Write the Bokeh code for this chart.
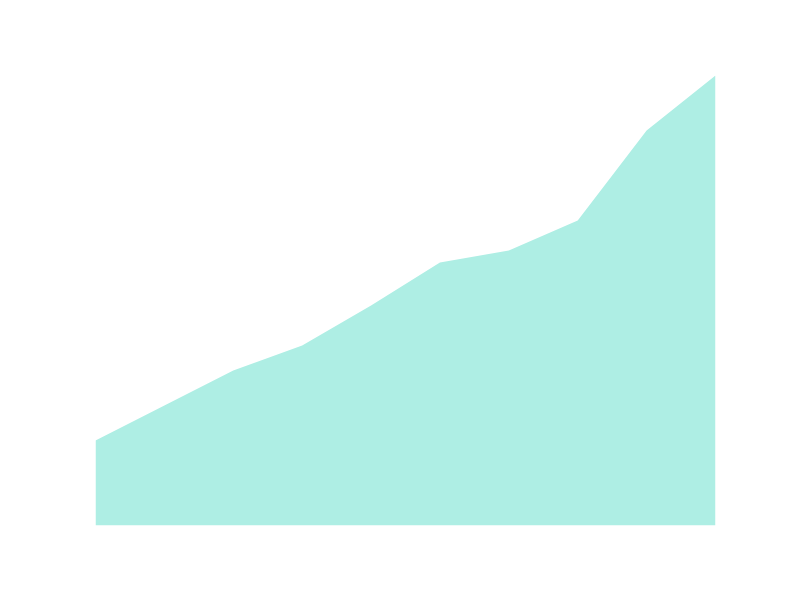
from bokeh.plotting import figure
from bokeh.models import Range1d
from bokeh.embed import file_html
from bokeh.resources import INLINE

periods = [0, 1, 2, 3, 4, 5, 6, 7, 8, 9]
values = [85, 120, 155, 180, 220, 263, 275, 305, 395, 450]
baseline = [0] * len(values)

p = figure(width=784, height=576, output_backend="svg", toolbar_location=None,
           x_range=Range1d(0, 9), y_range=Range1d(0, 450),
           min_border_left=95, min_border_right=69, min_border_top=75, min_border_bottom=51)
p.varea(x=periods, y1=baseline, y2=values, fill_color="#aeeee4", fill_alpha=1.0)
p.xaxis.visible = False
p.yaxis.visible = False
p.grid.visible = False
p.outline_line_color = None
p.background_fill_color = "white"
p.border_fill_color = "white"

open("out.html", "w").write(file_html(p, INLINE))
